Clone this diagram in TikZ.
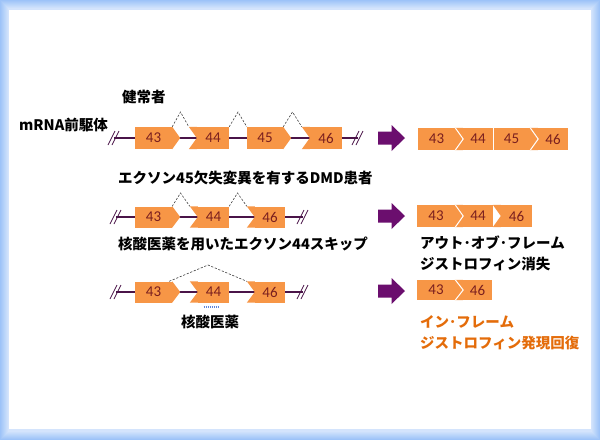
\documentclass[tikz,border=0pt]{standalone}
\usepackage{fontspec}
\setmainfont{Carlito}
\newfontfamily\jp{Noto Sans CJK JP}
\usetikzlibrary{positioning}
\definecolor{exorange}{HTML}{F79646}
\definecolor{exred}{HTML}{7A1F1F}
\definecolor{intron}{HTML}{4A1448}
\definecolor{fwdpurple}{HTML}{6B0E6E}
\definecolor{frameblue}{HTML}{9DC3F8}
\definecolor{gainorange}{HTML}{E46C0A}
\definecolor{asoblue}{HTML}{5F86D8}
% pointed right end / notched left end of an exon body
\newcommand\extip[1]{\fill[exorange] (#1.north east) -- ([xshift=8pt]#1.east) -- (#1.south east) -- cycle;}
\newcommand\exnotch[1]{\fill[exorange] (#1.north west) -- ([xshift=-8pt]#1.north west) -- (#1.west)
  -- ([xshift=-8pt]#1.south west) -- (#1.south west) -- cycle;}
\tikzset{
  exon/.style={rectangle, fill=exorange, text=exred, minimum width=#1,
    minimum height=22pt, inner sep=0pt, font=\fontsize{15}{15}\selectfont},
  line/.style={draw=intron, line width=1.4pt},
  sep/.style={draw=white, line width=1pt},
  splice/.style={draw=black!75, line width=0.6pt, dash pattern=on 2.2pt off 1.6pt},
  lbl/.style={font=\jp\bfseries\fontsize{14.5}{21}\selectfont, anchor=west, align=left, inner sep=0pt},
  brk/.pic={\draw[intron, line width=0.8pt] (-6,7) -- (1,-7) (-2,7) -- (5,-7);},
  fwd/.pic={\fill[fwdpurple] (-13.5,-6.5) -- (0,-6.5) -- (0,-13) -- (13.5,0) -- (0,13)
    -- (0,6.5) -- (-13.5,6.5) -- cycle;}
}
\begin{document}
\begin{tikzpicture}[x=1pt,y=-1pt]
% frame
\foreach \i in {0,...,8}
  \fill[frameblue!\the\numexpr 100-7*\i\relax!white] (\i,\i) rectangle (600-\i,440-\i);
\fill[white] (9,10) rectangle (591,429);

% labels
\node[lbl] (healthy) at (122,97) {健常者};
\node[lbl] (premrna) at (19,125) {mRNA前駆体};
\node[lbl] (dmd) at (118,178) {エクソン45欠失変異を有するDMD患者};
\node[lbl] (skip) at (118,244) {核酸医薬を用いたエクソン44スキップ};
\node[lbl, anchor=center] (drug) at (210,322) {核酸医薬};
\node[lbl] (outframe) at (420,253.5) {アウト･オブ･フレーム\\ジストロフィン消失};
\node[lbl, text=gainorange] (inframe) at (420,333) {イン･フレーム\\ジストロフィン発現回復};

% healthy pre-mRNA
\coordinate (nl) at (114,138);
\coordinate (nr) at (358,138);
\draw[line] (nl) -- (nr);
\pic at (nl) {brk};
\pic at (nr) {brk};
\node[exon=37pt] (n43) at (153.5,138) {43}; \extip{n43}
\node[exon=32pt] (n44) at (213,138) {44};   \exnotch{n44}
\node[exon=36pt] (n45) at (265,138) {45};   \extip{n45}
\node[exon=32pt] (n46) at (326,138) {46};   \exnotch{n46}
\coordinate (np1) at (180.5,112);
\coordinate (np2) at (238,112);
\coordinate (np3) at (292.5,112);
\draw[splice] (n43.north east) -- (np1) -- ([xshift=-8pt]n44.north west);
\draw[splice] (n44.north east) -- (np2) -- (n45.north west);
\draw[splice] (n45.north east) -- (np3) -- ([xshift=-8pt]n46.north west);

% exon 45 deletion
\coordinate (dl) at (116,217);
\coordinate (dr) at (303,217);
\draw[line] (dl) -- (dr);
\pic at (dl) {brk};
\pic at (dr) {brk};
\node[exon=37pt, minimum height=21pt] (d43) at (153.5,217) {43}; \extip{d43}
\node[exon=31pt, minimum height=21pt] (d44) at (213.5,217) {44}; \exnotch{d44}
\node[exon=30pt, minimum height=21pt] (d46) at (270,217) {46};   \exnotch{d46}
\coordinate (dp1) at (180.5,193);
\coordinate (dp2) at (237.5,193);
\draw[splice] (d43.north east) -- (dp1) -- ([xshift=-8pt]d44.north west);
\draw[splice] (d44.north east) -- (dp2) -- ([xshift=-8pt]d46.north west);

% exon 44 skipping
\coordinate (sl) at (116,292);
\coordinate (sr) at (303,292);
\draw[line] (sl) -- (sr);
\pic at (sl) {brk};
\pic at (sr) {brk};
\node[exon=37pt, minimum height=21pt] (s43) at (153.5,292) {43}; \extip{s43}
\node[exon=31pt, minimum height=21pt] (s44) at (213.5,292) {44}; \exnotch{s44}
\node[exon=30pt, minimum height=21pt] (s46) at (270,292) {46};   \exnotch{s46}
\coordinate (sp) at (208,265);
\draw[splice] ([xshift=-3pt]s43.north east) -- (sp) -- ([xshift=-8pt]s46.north west);
\draw[asoblue, line width=1.6pt, dash pattern=on 1.6pt off 0.4pt] (s44.south) ++(-10,4) -- ++(15,0);

% arrows
\pic at (391.5,138) {fwd};
\pic at (391.5,216) {fwd};
\pic at (391.5,291) {fwd};

% mRNA
\node[exon=37pt] (m43) at (436.5,139) {43}; \extip{m43}
\node[exon=30pt] (m44) at (478,139) {44};   \exnotch{m44}
\node[exon=37pt] (m45) at (511.5,139) {45}; \extip{m45}
\node[exon=30pt] (m46) at (553,139) {46};   \exnotch{m46}
\draw[sep] (m43.north east) -- ([xshift=8pt]m43.east) -- (m43.south east);
\draw[sep] (m44.north east) -- (m44.south east);
\draw[sep] (m45.north east) -- ([xshift=8pt]m45.east) -- (m45.south east);

\node[exon=38pt] (o43) at (436,216) {43};   \extip{o43}
\node[exon=30pt] (o44) at (478,216) {44};   \exnotch{o44}
\node[exon=31pt] (o46) at (516.5,216) {46}; \exnotch{o46}
\draw[sep] (o43.north east) -- ([xshift=8pt]o43.east) -- (o43.south east);

\node[exon=38pt, minimum height=20pt] (i43) at (436,290) {43};   \extip{i43}
\node[exon=29pt, minimum height=20pt] (i46) at (477.5,290) {46}; \exnotch{i46}
\draw[sep] (i43.north east) -- ([xshift=8pt]i43.east) -- (i43.south east);
\end{tikzpicture}
\end{document}
